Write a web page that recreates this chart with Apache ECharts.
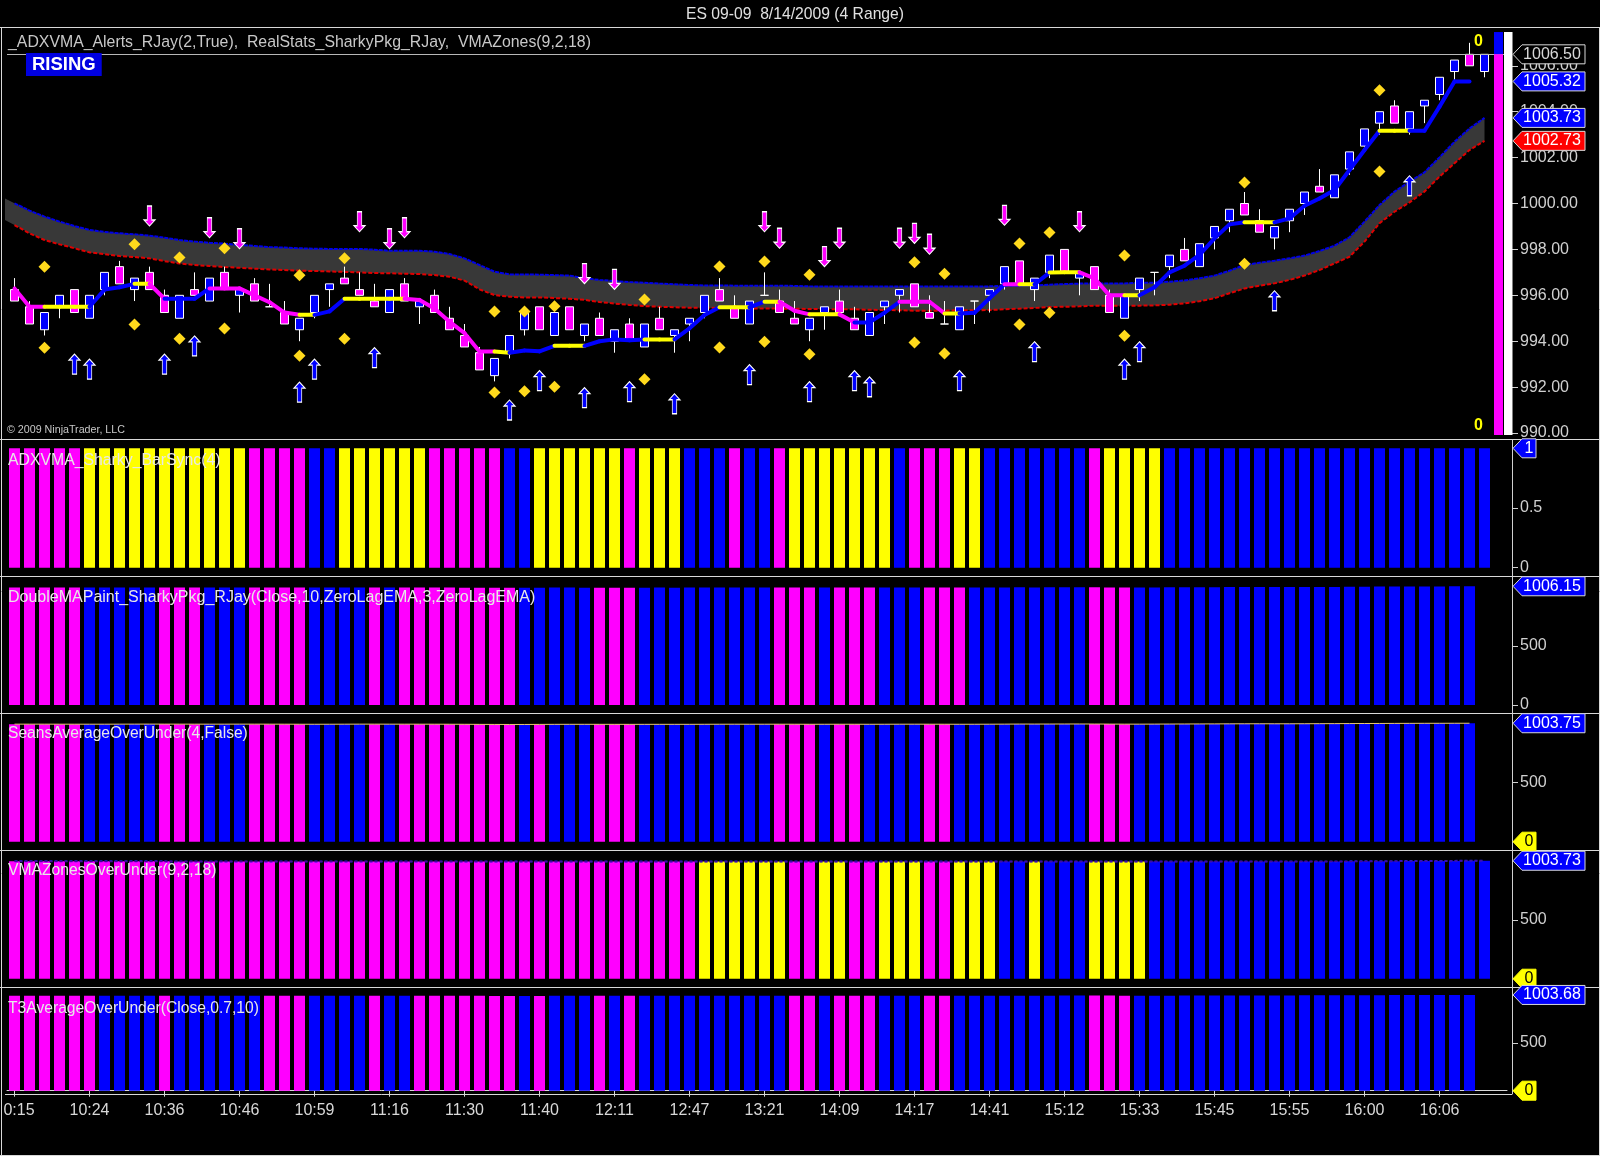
<!DOCTYPE html>
<html><head><meta charset="utf-8">
<style>html,body{margin:0;padding:0;background:#000}#c{width:1600px;height:1156px}</style>
<script src="https://cdn.jsdelivr.net/npm/echarts@6/dist/echarts.min.js"></script>
</head><body><div id="c"></div>
<script>
const tickLabels=['0:15','10:24','10:36','10:46','10:59','11:16','11:30','11:40','12:11','12:47','13:21','14:09','14:17','14:41','15:12','15:33','15:45','15:55','16:00','16:06'];
const opens=[996.25,995.5,994.5,995.5,996.25,995,996.25,997.25,996.25,997,996,995,996.25,995.75,997,996,996.5,995.5,995.25,994.5,995.25,996.25,996.75,996.25,995.75,995.25,996.5,995.5,996,995,994.25,993.5,992.5,993.5,994.5,995.5,994.25,995.5,994.25,995,994,994.75,993.75,995,994.25,994.75,995.25,996.25,995.5,994.75,996,995.75,995,994.5,995.25,995.75,995,994.25,995.5,996,996.5,995.25,994.75,994.5,995.75,996,996.5,997.5,996.25,997,998,996.75,997.25,996,995,996.25,997,997.25,998,997.25,998.5,999.25,1000,999.25,998.5,999.25,1000,1000.75,1000.25,1001.5,1002.5,1003.5,1004.25,1003.25,1004.25,1004.75,1005.75,1006.5,1005.75];
const closes=[995.75,994.75,995.25,996,995.25,996,997,996.5,996.75,996.25,995.25,996,996,996.75,996.25,996.25,995.75,995.5,994.75,995,996,996.5,996.5,996,995.5,996.25,995.75,995.75,995.25,994.5,993.75,992.75,993.25,994.25,995.25,994.5,995.25,994.5,994.75,994.25,994.5,994,994.75,994.5,994.5,995,996,995.75,995,995.75,996,995.25,994.75,995,995.5,995.25,994.5,995.25,995.75,996.25,995.5,995,994.75,995.5,995.75,996.25,997.25,996.5,996.75,997.75,997,997,996.25,995.25,996,996.75,997,997.75,997.5,998.25,999,999.75,999.5,998.75,999,999.75,1000.5,1000.5,1001.25,1002.25,1003.25,1004,1003.5,1004,1004.5,1005.5,1006.25,1006,1006.5];
const lows=[995.75,994.75,994.25,995,995.25,995,996,996.5,995.75,996.25,995.25,995,996,995.75,996.25,995.25,995.75,995.5,994.75,994,995,995.5,996.5,996,995.5,995.25,995.75,994.75,995.25,994.5,993.75,992.75,992.25,993.25,994.25,994.5,994.25,994.5,994,994.25,993.5,994,993.75,994.5,993.5,994,995,995.75,995,994.75,996,995.25,994.75,994,994.5,995.25,994.5,994.25,994.75,995.25,995.5,995,994.75,994.5,994.75,995.25,996.25,996.5,995.75,996.75,997,996,996.25,995.25,995,995.75,996,996.75,997.5,997.25,998,998.75,999.5,998.75,998,998.75,999.5,1000.5,1000.25,1001.25,1002.25,1003,1003.5,1003,1003.5,1004.5,1005.25,1006,1005.5];
const highs=[996.75,995.75,995.25,996,996.25,996,997,997.5,996.75,997.25,996.25,996,997,996.75,997.25,996.25,996.75,996.5,995.75,995,996,996.5,997.25,997,996.5,996.25,996.75,995.75,996.25,995.5,994.75,993.75,993.25,994.25,995.25,995.5,995.25,995.5,994.75,995.25,994.5,995,994.75,995.5,994.5,995,996,996.75,996,995.75,997,996.25,995.75,995,995.5,996.25,995.5,995.25,995.75,996.25,996.5,996,995.75,995.5,995.75,996.25,997.25,997.5,996.75,997.75,998,997,997.25,996.25,996,996.75,997,997.75,998.5,998.25,999,999.75,1000.5,999.75,999,999.75,1000.5,1001.5,1001.25,1002.25,1003.25,1004,1004.5,1004,1004.5,1005.5,1006.25,1007,1006.5];
const vmaValues=[996.3,995.5,995.5,995.5,995.5,995.5,996.25,996.35,996.5,996.5,995.85,995.85,995.85,996.3,996.3,996.3,996,995.7,995.25,995.15,995.15,995.3,995.85,995.85,995.85,995.85,995.85,995.8,995.43,994.85,994.35,993.55,993.55,993.5,993.6,993.56,993.8,993.8,993.8,994,994.08,994.04,994.08,994.08,994.08,994.56,995.14,995.48,995.48,995.48,995.72,995.72,995.33,995.17,995.17,995.17,994.82,994.82,995.24,995.72,995.72,995.72,995.21,995.21,995.24,995.87,996.48,996.48,996.48,996.99,997,997,996.74,996,996,996,996.35,997,997.29,997.76,998.48,999.09,999.18,999.18,999.18,999.35,999.9,1000.22,1000.59,1001.46,1002.33,1003.17,1003.17,1003.17,1003.17,1004.22,1005.32,1005.32];
const vmaSegments='M2 Y3 B3 Y1 M1 B3 M6 Y1 B2 Y4 M6 Y1 B3 Y2 B4 Y2 B3 Y2 B1 Y1 M2 Y2 M1 B3 M3 Y1 B3 M1 Y1 B1 Y2 M3 Y1 B7 Y2 B7 Y2 B4';
const zoneUpper=[1000.01,999.69,999.43,999.21,999.02,998.85,998.76,998.7,998.66,998.6,998.51,998.41,998.34,998.29,998.25,998.19,998.15,998.1,998.08,998.05,998.03,998.02,998.02,998.02,997.99,997.94,997.94,997.94,997.9,997.8,997.61,997.32,997.03,996.91,996.91,996.9,996.88,996.86,996.74,996.67,996.62,996.58,996.55,996.51,996.48,996.45,996.43,996.43,996.42,996.42,996.42,996.42,996.41,996.39,996.38,996.38,996.38,996.38,996.38,996.38,996.38,996.38,996.38,996.38,996.38,996.39,996.41,996.42,996.43,996.46,996.49,996.51,996.52,996.52,996.52,996.54,996.55,996.59,996.65,996.74,996.86,997.07,997.32,997.42,997.51,997.61,997.73,997.93,998.16,998.53,999.21,999.93,1000.52,1000.95,1001.36,1002.01,1002.69,1003.27,1003.73];
const zoneLower=[999.06,998.7,998.41,998.22,998.05,997.87,997.79,997.71,997.67,997.61,997.49,997.39,997.32,997.28,997.23,997.2,997.16,997.13,997.1,997.07,997.06,997.04,997.02,997,996.97,996.96,996.94,996.93,996.88,996.81,996.64,996.26,996.01,995.94,995.9,995.91,995.88,995.85,995.8,995.71,995.64,995.58,995.53,995.5,995.48,995.46,995.46,995.45,995.45,995.43,995.43,995.42,995.42,995.4,995.4,995.39,995.39,995.37,995.36,995.35,995.33,995.33,995.33,995.35,995.35,995.36,995.39,995.42,995.45,995.49,995.5,995.52,995.55,995.55,995.55,995.55,995.56,995.59,995.65,995.74,995.87,996.09,996.3,996.42,996.52,996.67,996.86,997.1,997.39,997.68,998.34,999.14,999.64,1000.05,1000.52,1001.17,1001.75,1002.33,1002.73];
const zoneLeadIn=[1000.22,999.28];
const diamonds=[[2,997.25],[2,993.72],[8,998.22],[8,994.73],[11,997.65],[11,994.11],[14,998.05],[14,994.55],[19,996.87],[19,993.37],[22,997.61],[22,994.11],[32,995.3],[32,991.77],[34,995.3],[34,991.82],[36,995.52],[36,992.02],[42,995.82],[42,992.34],[47,997.26],[47,993.73],[50,997.47],[50,993.98],[53,996.9],[53,993.43],[60,997.44],[60,993.94],[62,996.94],[62,993.46],[67,998.26],[67,994.73],[69,998.74],[69,995.24],[74,997.73],[74,994.24],[82,1000.92],[82,997.38],[91,1004.93],[91,1001.39]];
const downArrows=[[9,999.02],[13,998.51],[15,998.03],[23,998.77],[25,998.03],[26,998.51],[38,996.51],[40,996.26],[50,998.77],[51,998.05],[54,997.25],[55,998.05],[59,998.05],[60,998.26],[61,997.79],[66,999.05],[71,998.77]];
const upArrows=[[4,993.44],[5,993.22],[10,993.44],[12,994.23],[19,992.22],[20,993.22],[24,993.72],[33,991.44],[35,992.72],[38,991.98],[41,992.24],[44,991.71],[49,992.98],[53,992.24],[56,992.72],[57,992.45],[63,992.72],[68,993.98],[74,993.22],[75,993.98],[84,996.2],[93,1001.21]];
const lastPrice=1006.5;
const statsLevels=[989.91,1006.5,1007.47];
const panel1Colors='M5 Y11 M4 B2 Y6 M5 B2 Y6 M1 Y3 B3 M1 B2 M1 Y7 B1 M3 Y2 B7 M1 Y4 B22';
const panel2Colors='M5 B5 M3 B3 M4 B4 M1 B1 M8 B5 M3 B9 M3 B1 M3 B3 M3 B8 M3 B23';
const panel3Colors='M5 B5 M3 B3 M4 B4 M1 B1 M8 B1 M1 B3 M3 B9 M3 B1 M2 B4 M2 B9 M3 B23';
const panel4Colors='M46 Y6 M2 Y2 M2 Y3 M2 Y3 B2 Y1 B3 Y4 B23';
const panel5Colors='M6 B4 M1 B6 M3 B4 M1 B2 M7 B1 M1 B3 M1 B1 M1 B10 M2 B1 M3 B3 M2 B9 M3 B23';
const panel2Values=[996,996,995.6,995.5,995.6,995.6,996,996.4,996.5,996.5,996.2,995.9,996,996.2,996.3,996.2,996,995.7,995.2,994.9,995.2,995.8,996.2,996.2,995.9,995.8,995.8,995.6,995.4,994.9,994.2,993.4,993.1,993.3,993.9,994.4,994.7,994.7,994.6,994.5,994.3,994.4,994.6,994.7,994.5,994.7,995.4,995.8,995.5,995.4,995.7,995.5,995.1,995,995.3,995.5,995,995,995.4,995.9,995.9,995.3,994.9,995.2,995.5,995.9,996.7,997,996.7,997.2,997.6,997.2,996.9,996.2,995.8,996.3,996.7,997.3,997.7,997.9,998.5,999.2,999.7,999.3,999,999.4,1000.1,1000.6,1000.9,1001.6,1002.6,1003.4,1003.9,1003.8,1004.1,1004.9,1005.7,1006.15];
const panel3Values=[996,996,996,995.8,995.6,995.6,995.6,996,996.3,996.4,996.4,996.1,996,995.9,996,996.2,996.2,996,995.7,995.3,995.1,995.4,995.8,996.1,996.2,995.9,995.9,995.8,995.6,995.3,994.8,994.2,993.6,993.2,993.4,993.9,994.4,994.7,994.7,994.6,994.4,994.3,994.4,994.6,994.5,994.5,994.9,995.4,995.6,995.4,995.5,995.6,995.4,995,995.1,995.3,995.2,995,995.2,995.6,995.8,995.6,995.3,995.1,995.2,995.6,996.2,996.8,996.7,996.9,997.2,997.3,997.1,996.6,996,996,996.4,996.9,997.4,997.7,998.1,998.6,999,999.2,999.1,999.1,999.5,1000,1000.4,1000.9,1001.4,1001.9,1002.4,1002.8,1003.1,1003.3,1003.5,1003.75];
const panel5Values=[996,995.9,995.8,995.7,995.6,995.6,995.7,995.9,996.1,996.2,996.2,996.1,996,996,996,996,995.9,995.8,995.6,995.3,995.1,995.2,995.4,995.7,995.8,995.8,995.8,995.7,995.6,995.3,994.9,994.4,993.9,993.6,993.5,993.7,994,994.2,994.4,994.4,994.4,994.3,994.3,994.4,994.4,994.4,994.6,994.9,995.1,995.2,995.2,995.3,995.2,995.1,995.1,995.1,995.1,995,995.1,995.3,995.5,995.5,995.4,995.3,995.3,995.4,995.7,996.1,996.3,996.5,996.8,997,997,996.8,996.4,996.2,996.2,996.5,996.9,997.2,997.5,998,998.5,998.8,998.9,999,999.3,999.8,1000.2,1000.6,1001.1,1001.7,1002.2,1002.6,1003,1003.2,1003.5,1003.68];
const mainTicks=[990,992,994,996,998,1000,1002,1004,1006];
const panel1Ticks=[0,0.5];
const panelTicks=[0,500];
const mainFlags=[[1006.5,'K','1006.50'],[1005.32,'B','1005.32'],[1003.73,'B','1003.73'],[1002.73,'R','1002.73']];
const panel1Flags=[[1,'B','1']];
const panel2Flags=[[1006.15,'B','1006.15']];
const panel3Flags=[[1003.75,'B','1003.75'],[0,'Y','0']];
const panel4Flags=[[1003.73,'B','1003.73'],[0,'Y','0']];
const panel5Flags=[[1003.68,'B','1003.68'],[0,'Y','0']];

const FONT='"Liberation Sans", Arial, sans-serif';
const MAG='#ff00ff',BLU='#0000ff',YEL='#ffff00';
const CMAP={M:MAG,B:BLU,Y:YEL};
const expand=s=>s.split(' ').flatMap(r=>Array(+r.slice(1)).fill(r[0]));
const categories=Array.from({length:100},(_,i)=>i%5===0&&i/5<tickLabels.length?tickLabels[i/5]:'');

const panels=[
 {top:440,h:136,min:-0.0695,max:1.0695,ticks:panel1Ticks,vals:opens.map(()=>1),cols:panel1Colors,flags:panel1Flags},
 {top:577,h:136,min:-67.8,max:1084.7,ticks:panelTicks,vals:panel2Values,cols:panel2Colors,flags:panel2Flags},
 {top:714,h:136,min:-70.3,max:1082,ticks:panelTicks,vals:panel3Values,cols:panel3Colors,flags:panel3Flags},
 {top:851,h:136,min:-70.6,max:1086.8,ticks:panelTicks,vals:zoneUpper,cols:panel4Colors,flags:panel4Flags},
 {top:988,h:106,min:-34.6,max:1076.5,ticks:panelTicks,vals:panel5Values,cols:panel5Colors,flags:panel5Flags}
];
const GL=7,GW=1500,AXO=5;
const grids=[{left:GL,width:GW,top:27,height:412}].concat(panels.map(p=>({left:GL,width:GW,top:p.top,height:p.h})));
const xAxes=grids.map((g,i)=>{
 const last=i===grids.length-1;
 return {type:'category',gridIndex:i,data:categories,boundaryGap:true,
  axisLine:{show:last,lineStyle:{color:'#d8d8d8'}},
  axisTick:{show:last,interval:4,alignWithLabel:true,length:6,lineStyle:{color:'#d8d8d8'}},
  axisLabel:{show:last,interval:4,margin:9,color:'#d8d8d8',fontFamily:FONT,fontSize:16,
    formatter:v=>v===tickLabels[0]?'{f|'+v+'}':v,rich:{f:{padding:[0,0,0,9],color:'#d8d8d8',fontFamily:FONT,fontSize:16}}},
  splitLine:{show:false}};
});
const yBase={type:'value',position:'right',offset:AXO,splitLine:{show:false},scale:true};
const fmt2=v=>v.toFixed(2);
const yAxes=[Object.assign({},yBase,{gridIndex:0,min:989.74,max:1007.69,
   axisLine:{show:false},
   axisTick:{show:true,length:6,customValues:mainTicks,lineStyle:{color:'#d0d0d0'}},
   axisLabel:{show:true,margin:8,padding:[6,0,0,0],customValues:mainTicks,formatter:fmt2,color:'#d0d0d0',fontFamily:FONT,fontSize:16}})]
 .concat(panels.map((p,i)=>Object.assign({},yBase,{gridIndex:i+1,min:p.min,max:p.max,
   axisLine:{show:true,lineStyle:{color:'#d0d0d0'}},
   axisTick:{show:true,length:6,customValues:p.ticks,lineStyle:{color:'#d0d0d0'}},
   axisLabel:{show:true,margin:8,padding:[5,0,0,0],customValues:p.ticks,color:'#d0d0d0',fontFamily:FONT,fontSize:16}})));

const flagSeries=(flags,g)=>({type:'custom',xAxisIndex:g,yAxisIndex:g,z:20,clip:false,silent:true,
 data:flags.map((f,i)=>[98,f[0],i]),
 renderItem(params,api){
  const f=flags[params.dataIndex];
  const y=api.coord([98,api.value(1)])[1];
  const x0=params.coordSys.x+params.coordSys.width+AXO+1;
  const w=f[2].length>2?72:23, h=9.5;
  const fill={K:'#000',B:'#0000ff',R:'#ff0000',Y:'#ffff00'}[f[1]];
  const stroke=f[1]==='Y'?'#ffff00':'#d8d8d8';
  const tx=f[1]==='Y'?'#000':(f[1]==='K'?'#d8d8d8':'#fff');
  return {type:'group',children:[
   {type:'polygon',shape:{points:[[x0,y],[x0+9,y-h],[x0+w,y-h],[x0+w,y+h],[x0+9,y+h]]},style:{fill,stroke,lineWidth:1}},
   {type:'text',style:{text:f[2],x:x0+(w>30?39:16),y:y,fill:tx,font:'16px '+FONT,align:'center',verticalAlign:'middle',textAlign:'center',textVerticalAlign:'middle'}}
  ]};
 }});

const series=[];
series.push({type:'custom',xAxisIndex:0,yAxisIndex:0,z:1,clip:false,silent:true,
 data:zoneUpper.map((u,i)=>[i,u,zoneLower[i]]),
 renderItem(params,api){
  if(params.dataIndex!==0) return null;
  const up=zoneUpper.map((v,i)=>api.coord([i,v]));
  const lo=zoneLower.map((v,i)=>api.coord([i,v])).reverse();
  const lead=up[0][0]-9.5;
  const a=[lead,api.coord([0,zoneLeadIn[0]])[1]],b=[lead,api.coord([0,zoneLeadIn[1]])[1]];
  return {type:'polygon',shape:{points:[a].concat(up,lo,[b])},style:{fill:'#383838'}};
 }});
series.push({type:'line',name:'Zone upper',xAxisIndex:0,yAxisIndex:0,z:2,data:zoneUpper,showSymbol:false,silent:true,
 lineStyle:{color:'#0000e8',width:2,type:[4,1]}});
series.push({type:'line',name:'Zone lower',xAxisIndex:0,yAxisIndex:0,z:2,data:zoneLower,showSymbol:false,silent:true,
 lineStyle:{color:'#e00000',width:2,type:[4,2]}});
series.push({type:'candlestick',name:'ES 09-09',xAxisIndex:0,yAxisIndex:0,z:3,barWidth:9,silent:true,
 data:opens.map((o,i)=>[o,closes[i],lows[i],highs[i]]),
 itemStyle:{color:BLU,color0:MAG,borderColor:'#fff',borderColor0:'#fff',borderColorDoji:'#fff',borderWidth:1},
 markLine:{silent:true,symbol:'none',label:{show:false},animation:false,lineStyle:{color:'#b8b8b8',width:1,type:'solid'},data:[{yAxis:lastPrice}]}});
const segs=expand(vmaSegments);
series.push({type:'custom',name:'VMA',xAxisIndex:0,yAxisIndex:0,z:4,silent:true,clip:false,
 data:segs.map((c,i)=>[i,vmaValues[i],vmaValues[i+1]]),
 renderItem(params,api){
  const i=params.dataIndex;
  const p=api.coord([api.value(0),api.value(1)]),q=api.coord([api.value(0)+1,api.value(2)]);
  return {type:'line',shape:{x1:p[0],y1:p[1],x2:q[0],y2:q[1]},style:{stroke:CMAP[segs[i]],lineWidth:4,lineCap:'round'}};
 }});
const arrowUp='path://M5,0 L10,6 L7,6 L7,20 L3,20 L3,6 L0,6 Z';
const arrowDown='path://M3,0 L7,0 L7,14 L10,14 L5,20 L0,14 L3,14 Z';
series.push({type:'scatter',name:'Diamonds',xAxisIndex:0,yAxisIndex:0,z:5,silent:true,symbol:'diamond',symbolSize:[12,12],data:diamonds,itemStyle:{color:'#ffd91c',opacity:1}});
series.push({type:'scatter',name:'Up',xAxisIndex:0,yAxisIndex:0,z:5,silent:true,symbol:arrowUp,symbolSize:[11,20],symbolKeepAspect:false,symbolOffset:[0,'50%'],data:upArrows,itemStyle:{color:'#0000ff',borderColor:'#fff',borderWidth:1,opacity:1}});
series.push({type:'scatter',name:'Down',xAxisIndex:0,yAxisIndex:0,z:5,silent:true,symbol:arrowDown,symbolSize:[11,20],symbolKeepAspect:false,symbolOffset:[0,'-50%'],data:downArrows,itemStyle:{color:'#ff00ff',borderColor:'#fff',borderWidth:1,opacity:1}});
series.push({type:'custom',name:'RealStats',xAxisIndex:0,yAxisIndex:0,z:6,clip:false,silent:true,
 data:[[98,statsLevels[0],statsLevels[1],statsLevels[2]]],
 renderItem(params,api){
  const b=api.coord([98,api.value(1)])[1],m=api.coord([98,api.value(2)])[1],t=api.coord([98,api.value(3)])[1];
  const r=params.coordSys.x+params.coordSys.width;
  return {type:'group',children:[
   {type:'rect',shape:{x:r-13,y:t,width:9,height:m-t},style:{fill:BLU}},
   {type:'rect',shape:{x:r-13,y:m,width:9,height:b-m},style:{fill:MAG}},
   {type:'rect',shape:{x:r-3,y:t,width:8.5,height:b-t},style:{fill:'#fff'}}
  ]};
 }});
series.push(flagSeries(mainFlags,0));
panels.forEach((p,k)=>{
 const g=k+1;const cols=expand(p.cols);
 series.push({type:'bar',xAxisIndex:g,yAxisIndex:g,barWidth:11,z:2,silent:true,
  data:p.vals.map((v,i)=>({value:v,itemStyle:{color:CMAP[cols[i]]}}))});
 series.push(flagSeries(p.flags,g));
});
series.push({type:'line',name:'Seans',xAxisIndex:3,yAxisIndex:3,z:3,silent:true,showSymbol:false,data:panel3Values,lineStyle:{color:'#e8c870',width:1}});
series.push({type:'line',name:'Zones upper',xAxisIndex:4,yAxisIndex:4,z:3,silent:true,showSymbol:false,data:zoneUpper,lineStyle:{color:'#2020e0',width:2,type:[3,2]}});
series.push({type:'line',name:'Zones lower',xAxisIndex:4,yAxisIndex:4,z:3,silent:true,showSymbol:false,data:zoneLower,lineStyle:{color:'#500090',width:1,type:[3,2]}});

const T=(text,left,top,size,color,extra)=>Object.assign({text,left,top,padding:0,textStyle:{color,fontFamily:FONT,fontSize:size,fontWeight:'normal'}},extra||{});
const titles=[
 T('ES 09-09  8/14/2009 (4 Range)',686,7,15.7,'#e0e0e0'),
 T('_ADXVMA_Alerts_RJay(2,True),  RealStats_SharkyPkg_RJay,  VMAZones(9,2,18)',8,35,15.85,'#c8c8c8'),
 {text:'RISING',left:26,top:53,padding:[2,6,2,6],backgroundColor:'#0000e0',textStyle:{color:'#fff',fontFamily:FONT,fontSize:18.5,fontWeight:'bold'}},
 T('\u00a9 2009 NinjaTrader, LLC',7,425,10.7,'#c8c8c8'),
 {text:'0',left:1474,top:34,padding:0,textStyle:{color:YEL,fontFamily:FONT,fontSize:16,fontWeight:'bold'}},
 {text:'0',left:1474,top:418,padding:0,textStyle:{color:YEL,fontFamily:FONT,fontSize:16,fontWeight:'bold'}},
 T('ADXVMA_Sharky_BarSync(4)',8,453,15.8,'#e8e8e8'),
 T('DoubleMAPaint_SharkyPkg_RJay(Close,10,ZeroLagEMA,3,ZeroLagEMA)',8,590,16,'#e8e8e8'),
 T('SeansAverageOverUnder(4,False)',8,726,15.6,'#e8e8e8'),
 T('VMAZonesOverUnder(9,2,18)',8,863,15.7,'#e8e8e8'),
 T('T3AverageOverUnder(Close,0.7,10)',8,1001,15.65,'#e8e8e8')
];
const hl=(y,x1,x2)=>({type:'line',shape:{x1,y1:y,x2,y2:y},style:{stroke:'#d8d8d8',lineWidth:1},silent:true});
const vl=(x,y1,y2)=>({type:'line',shape:{x1:x,y1,x2:x,y2},style:{stroke:'#d8d8d8',lineWidth:1},silent:true});
const chart=echarts.init(document.getElementById('c'),null,{renderer:'canvas'});
chart.setOption({
 animation:false,backgroundColor:'#000',
 title:titles,grid:grids,xAxis:xAxes,yAxis:yAxes,series,
 graphic:[hl(27.5,0,1600),hl(439.5,0,1600),hl(576.5,0,1600),hl(713.5,0,1600),hl(850.5,0,1600),hl(987.5,0,1600),hl(1094.5,5,1512),hl(1155.5,0,1600),vl(1.5,27,1156),vl(1599.5,27,1156)]
});
</script></body></html>
